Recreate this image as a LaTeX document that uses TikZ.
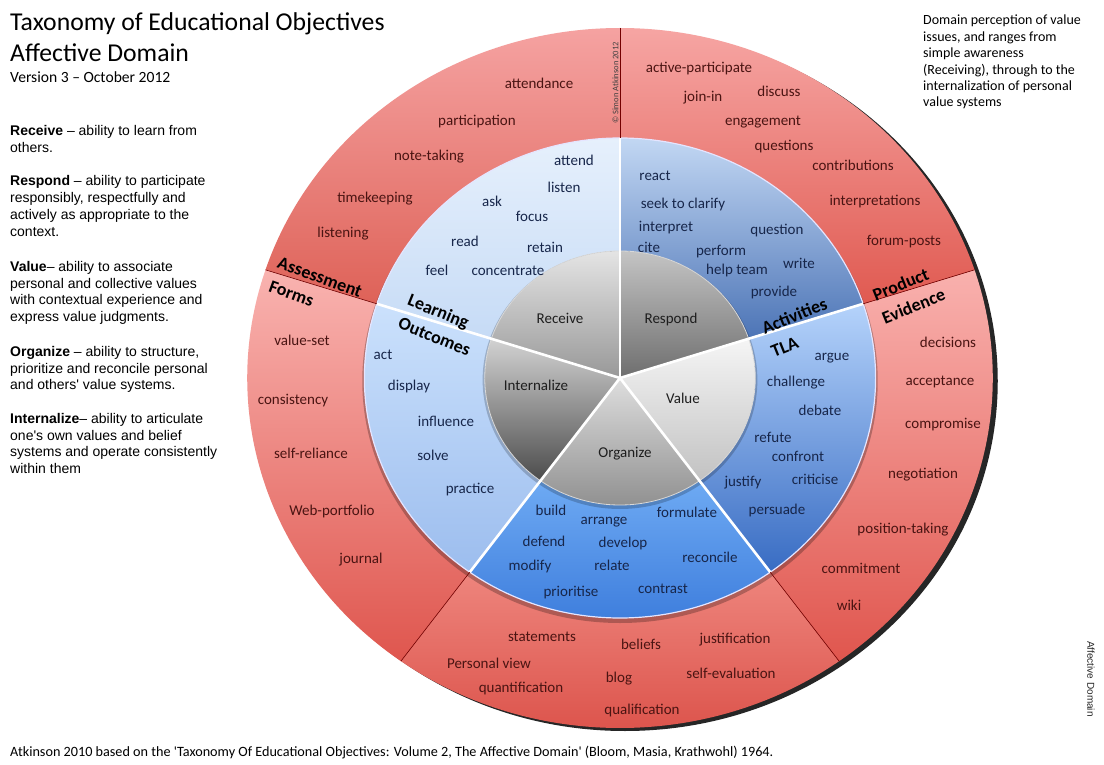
\documentclass[tikz,border=0pt]{standalone}
\usepackage{fontspec}
\setmainfont{Carlito}
\newfontfamily\arialf{Liberation Sans}
\newfontfamily\calplain{Carlito}
\definecolor{redtxt}{HTML}{4A1412}
\definecolor{bluetxt}{HTML}{17264A}
\definecolor{pietxt}{HTML}{1E1E1E}
\newcommand\annsec[6]{\definecolor{ctop}{HTML}{#5}\definecolor{cbot}{HTML}{#6}\path[top color=ctop,bottom color=cbot] (#1:#4) arc[start angle=#1,end angle=#2,radius=#4] -- (#2:#3) arc[start angle=#2,end angle=#1,radius=#3] -- cycle;}
\newcommand\wedgesec[5]{\definecolor{ctop}{HTML}{#4}\definecolor{cbot}{HTML}{#5}\path[top color=ctop,bottom color=cbot] (0,0) -- (#1:#3) arc[start angle=#1,end angle=#2,radius=#3] -- cycle;}
\begin{document}
\begin{tikzpicture}[x=1pt,y=-1pt,
  item/.style={font=\fontsize{15}{18}\selectfont, inner sep=0pt, text height=10.5pt, text depth=2.5pt},
  reditem/.style={item, text=redtxt},
  blueitem/.style={item, text=bluetxt},
  pielab/.style={item, text=pietxt},
  headl/.style={font=\bfseries\fontsize{18}{25}\selectfont, inner sep=0pt, text=black, align=left, anchor=west},
  leftpar/.style={font=\arialf\fontsize{14}{16.9}\selectfont, inner sep=0pt, align=left, anchor=north west, text=black},
  titletxt/.style={inner sep=0pt, anchor=base west, text=black}]
\useasboundingbox (0,0) rectangle (1104,765);
\fill[white] (0,0) rectangle (1104,765);

% outer drop shadow
\begin{scope}[shift={(625,381)},xscale=1.065]
  \fill[black!85] (0,0) circle[radius=350];
\end{scope}

\begin{scope}[shift={(620,378)},xscale=1.065]
  % red ring
  \annsec{-90}{-162}{240}{350}{F5A2A1}{DE6258}
  \annsec{-162}{-234}{240}{350}{F9B3B0}{DF564E}
  \annsec{-234}{-306}{240}{350}{EE857D}{DA4E46}
  \annsec{-306}{-378}{240}{350}{F9B1AE}{E0564E}
  \annsec{-378}{-450}{240}{350}{F6A5A3}{E05A51}
  % blue ring shadow
  \fill[black, opacity=0.25] (0,3) circle[radius=242];
  % blue ring
  \annsec{-90}{-162}{127}{240}{E6F0FC}{C6DBF6}
  \annsec{-162}{-234}{127}{240}{CBE1FC}{9CBDEE}
  \annsec{-234}{-306}{127}{240}{6EAAF3}{3A7ADB}
  \annsec{-306}{-378}{127}{240}{B5D3FB}{386CC3}
  \annsec{-378}{-450}{127}{240}{C2D7F3}{4C74B6}
  % pie shadow
  \fill[black, opacity=0.2] (0,2) circle[radius=129];
  % pie
  \wedgesec{-90}{-162}{127}{E4E4E4}{989898}
  \wedgesec{-162}{-234}{127}{D2D2D2}{4C4C4C}
  \wedgesec{-234}{-306}{127}{DEDEDE}{8C8C8C}
  \wedgesec{-306}{-378}{127}{F5F5F5}{C2C2C2}
  \wedgesec{-378}{-450}{127}{C4C4C4}{6E6E6E}
  % ring edges
  \draw[white!75!blue!40, line width=1.2pt] (0,0) circle[radius=240];
  \draw[white!70!gray, line width=0.8pt] (0,0) circle[radius=127];
  % separators
  \foreach \a in {-90,-162,-234,-306,-378} {
    \draw[white, line width=2.6pt] (0,0) -- (\a:240);
    \draw[red!45!black, line width=0.6pt] (\a:240) -- (\a:350);
  }
\end{scope}

% titles
\node[titletxt, font=\fontsize{25.7}{28}\selectfont] (title1) at (10,31) {Taxonomy of Educational Objectives};
\node[titletxt, font=\fontsize{25.7}{28}\selectfont] (title2) at (10,61.5) {Affective Domain};
\node[titletxt, font=\fontsize{15.6}{18}\selectfont] (version) at (10,82.5) {Version 3 \textendash{} October 2012};

% left descriptions
\node[leftpar] (pReceive) at (10,124.8) {\textbf{Receive} \textendash{} ability to learn from\\others.};
\node[leftpar] (pRespond) at (10,175.5) {\textbf{Respond} \textendash{} ability to participate\\responsibly, respectfully and\\actively as appropriate to the\\context.};
\node[leftpar] (pValue) at (10,260.8) {\textbf{Value}\textendash{} ability to associate\\personal and collective values\\with contextual experience and\\express value judgments.};
\node[leftpar] (pOrganize) at (10,345.8) {\textbf{Organize} \textendash{} ability to structure,\\prioritize and reconcile personal\\and others' value systems.};
\node[leftpar] (pInternalize) at (10,412.8) {\textbf{Internalize}\textendash{} ability to articulate\\one's own values and belief\\systems and operate consistently\\within them};

% top right
\node[inner sep=0pt, anchor=north west, align=left, font=\fontsize{14}{16.4}\selectfont] (domaintxt) at (923,15) {Domain perception of value\\issues, and ranges from\\simple awareness\\(Receiving), through to the\\internalization of personal\\value systems};

% bottom citation
\node[titletxt, font=\calplain\fontsize{14.2}{16}\selectfont] (cite) at (10,756.5) {Atkinson 2010 based on the 'Taxonomy Of Educational Objectives: Volume 2, The Affective Domain' (Bloom, Masia, Krathwohl) 1964.};

% side label
\node[inner sep=0pt, rotate=-90, font=\arialf\fontsize{10}{12}\selectfont, text=black!85] (sidelab) at (1091,679) {Affective Domain};
\node[inner sep=0pt, rotate=90, font=\fontsize{8.5}{10}\selectfont, text=black!75] (copyr) at (615.5,83) {\textcopyright\ Simon Atkinson 2012};

% headings
\node[headl, rotate=-20] (hAssess) at (274,274) {Assessment\\Forms};
\node[headl, rotate=-22] (hLearn) at (404,310.5) {Learning\\Outcomes};
\node[headl, rotate=22] (hAct) at (767,340) {Activities\\TLA};
\node[headl, rotate=22] (hProd) at (878,307) {Product\\Evidence};

% pie labels
\node[pielab] (pl-receive) at (560,319) {Receive};
\node[pielab] (pl-respond) at (671,319) {Respond};
\node[pielab] (pl-internalize) at (536,386) {Internalize};
\node[pielab] (pl-value) at (683,399) {Value};
\node[pielab] (pl-organize) at (625,453) {Organize};

% red ring items
\node[reditem] (r-attendance) at (539,85) {attendance};
\node[reditem] (r-participation) at (477,122) {participation};
\node[reditem] (r-notetaking) at (429,157) {note-taking};
\node[reditem] (r-timekeeping) at (375,199) {timekeeping};
\node[reditem] (r-listening) at (343,233) {listening};
\node[reditem] (r-valueset) at (302,341) {value-set};
\node[reditem] (r-consistency) at (293,400) {consistency};
\node[reditem] (r-selfreliance) at (311,454) {self-reliance};
\node[reditem] (r-webportfolio) at (332,511) {Web-portfolio};
\node[reditem] (r-journal) at (361,559) {journal};
\node[reditem] (r-statements) at (542,637) {statements};
\node[reditem] (r-beliefs) at (641,645) {beliefs};
\node[reditem] (r-justification) at (735,639) {justification};
\node[reditem] (r-personalview) at (489,664) {Personal view};
\node[reditem] (r-blog) at (619,678) {blog};
\node[reditem] (r-selfevaluation) at (731,674) {self-evaluation};
\node[reditem] (r-quantification) at (521,688) {quantification};
\node[reditem] (r-qualification) at (642,710) {qualification};
\node[reditem] (r-decisions) at (948,343) {decisions};
\node[reditem] (r-acceptance) at (940,381) {acceptance};
\node[reditem] (r-compromise) at (943,424) {compromise};
\node[reditem] (r-negotiation) at (923,474) {negotiation};
\node[reditem] (r-positiontaking) at (903,529) {position-taking};
\node[reditem] (r-commitment) at (861,569) {commitment};
\node[reditem] (r-wiki) at (849,606) {wiki};
\node[reditem] (r-activeparticipate) at (699,69) {active-participate};
\node[reditem] (r-joinin) at (703,98) {join-in};
\node[reditem] (r-discuss) at (779,93) {discuss};
\node[reditem] (r-engagement) at (763,122) {engagement};
\node[reditem] (r-questions) at (784,147) {questions};
\node[reditem] (r-contributions) at (853,167) {contributions};
\node[reditem] (r-interpretations) at (875,202) {interpretations};
\node[reditem] (r-forumposts) at (904,241) {forum-posts};

% blue ring items
\node[blueitem] (b-attend) at (574,162) {attend};
\node[blueitem] (b-listen) at (564,189) {listen};
\node[blueitem] (b-ask) at (492,203) {ask};
\node[blueitem] (b-focus) at (532,218) {focus};
\node[blueitem] (b-read) at (465,242) {read};
\node[blueitem] (b-retain) at (545,248) {retain};
\node[blueitem] (b-feel) at (437,271) {feel};
\node[blueitem] (b-concentrate) at (508,271) {concentrate};
\node[blueitem] (b-act) at (383,355) {act};
\node[blueitem] (b-display) at (409,386) {display};
\node[blueitem] (b-influence) at (446,422) {influence};
\node[blueitem] (b-solve) at (433,456) {solve};
\node[blueitem] (b-practice) at (470,489) {practice};
\node[blueitem] (b-build) at (551,511) {build};
\node[blueitem] (b-arrange) at (604,520) {arrange};
\node[blueitem] (b-formulate) at (687,513) {formulate};
\node[blueitem] (b-defend) at (544,542) {defend};
\node[blueitem] (b-develop) at (623,543) {develop};
\node[blueitem] (b-modify) at (530,566) {modify};
\node[blueitem] (b-relate) at (612,566) {relate};
\node[blueitem] (b-reconcile) at (710,558) {reconcile};
\node[blueitem] (b-prioritise) at (571,592) {prioritise};
\node[blueitem] (b-contrast) at (663,589) {contrast};
\node[blueitem] (b-argue) at (832,356) {argue};
\node[blueitem] (b-challenge) at (796,382) {challenge};
\node[blueitem] (b-debate) at (820,411) {debate};
\node[blueitem] (b-refute) at (773,438) {refute};
\node[blueitem] (b-confront) at (798,457) {confront};
\node[blueitem] (b-justify) at (743,482) {justify};
\node[blueitem] (b-criticise) at (815,480) {criticise};
\node[blueitem] (b-persuade) at (777,510) {persuade};
\node[blueitem] (b-react) at (655,177) {react};
\node[blueitem] (b-seek) at (683,205) {seek to clarify};
\node[blueitem] (b-interpret) at (666,228) {interpret};
\node[blueitem] (b-cite) at (649,248) {cite};
\node[blueitem] (b-question) at (777,231) {question};
\node[blueitem] (b-perform) at (721,251) {perform};
\node[blueitem] (b-helpteam) at (737,270) {help team};
\node[blueitem] (b-write) at (799,265) {write};
\node[blueitem] (b-provide) at (774,292) {provide};
\end{tikzpicture}
\end{document}
